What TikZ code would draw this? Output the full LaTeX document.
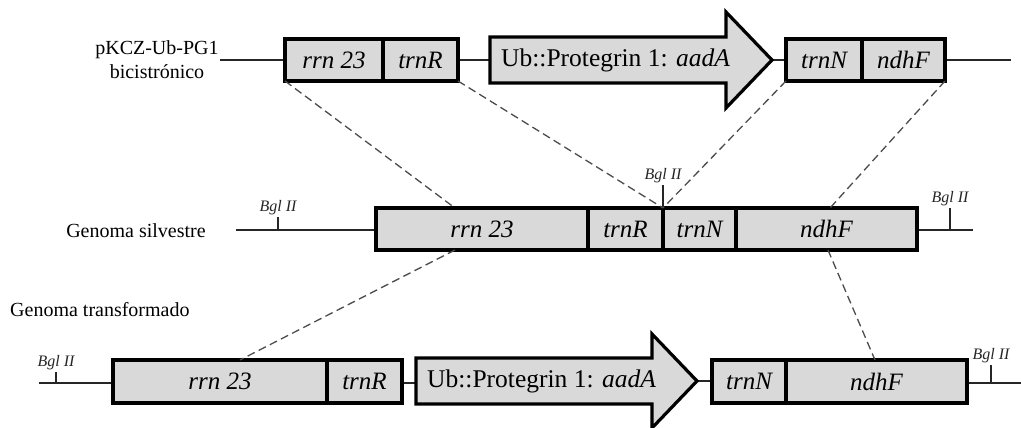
\documentclass[tikz,border=0pt]{standalone}
\usepackage{fontspec}
\setmainfont{Liberation Serif}
\definecolor{boxgray}{HTML}{D9D9D9}
\newcommand\segfont{\fontsize{25}{30}\selectfont\itshape}
\newcommand\arrfont{\fontsize{25.5}{30}\selectfont}
\newcommand\bglfont{\fontsize{16}{18}\selectfont\itshape}
\newcommand\rowfont{\fontsize{20}{24}\selectfont}
\begin{document}
\begin{tikzpicture}[x=1pt,y=-1pt,
  seg/.style={draw=black, line width=3.2pt, fill=boxgray, inner sep=0pt, outer sep=0pt, anchor=north west, font=\segfont},
  arrowbody/.style={draw=black, line width=3.2pt, fill=boxgray, line join=miter},
  thinline/.style={line width=1.4pt, black!85},
  dashc/.style={line width=1.3pt, black!70, dash pattern=on 8pt off 4.5pt},
  bgl/.style={font=\bglfont, inner sep=1.5pt, anchor=south},
  rowlab/.style={font=\rowfont, inner sep=0pt, align=center},
  arrtxt/.style={font=\arrfont, inner sep=0pt, anchor=west}]
\useasboundingbox[fill=white] (0,0) rectangle (1021,428);

% ---------- Row 1: plasmid ----------
\coordinate (p_l0) at (220,60);
\coordinate (p_r0) at (1011,60);
\coordinate (p_arrL) at (490,60);
\coordinate (p_arrT) at (772,60);
\draw[thinline] (p_l0) -- (p_arrL);
\draw[thinline] (p_arrT) -- (p_r0);
\node[seg, minimum width=98pt, minimum height=42pt] (p_rrn) at (285,39) {rrn 23};
\node[seg, minimum width=75pt, minimum height=42pt] (p_trnR) at (383,39) {trnR};
\draw[arrowbody] (490,37) -- (726,37) -- (726,12) -- (p_arrT) -- (726,108) -- (726,83) -- (490,83) -- cycle;
\node[arrtxt] (p_arrtxt) at (501,60) {Ub::Protegrin 1: \textit{aadA}};
\node[seg, minimum width=76pt, minimum height=42pt] (p_trnN) at (786,39) {trnN};
\node[seg, minimum width=83pt, minimum height=42pt] (p_ndhF) at (862,39) {ndhF};
\node[rowlab] (lab1) at (157,60) {pKCZ-Ub-PG1\\bicistrónico};

% ---------- Row 2: wild genome ----------
\coordinate (w_l0) at (236,230);
\coordinate (w_r0) at (973,230);
\coordinate (w_b1) at (278,230);
\coordinate (w_b3) at (950,230);
\draw[thinline] (w_l0) -- (376,230);
\draw[thinline] (917,230) -- (w_r0);
\draw[thinline] (w_b1) -- ++(0,-13) node[bgl] (w_bgl1) {Bgl II};
\draw[thinline] (w_b3) -- ++(0,-22) node[bgl] (w_bgl3) {Bgl II};
\node[seg, minimum width=212pt, minimum height=42pt] (w_rrn) at (376,208) {rrn 23};
\node[seg, minimum width=75pt, minimum height=42pt] (w_trnR) at (588,208) {trnR};
\node[seg, minimum width=73pt, minimum height=42pt] (w_trnN) at (663,208) {trnN};
\node[seg, minimum width=181pt, minimum height=42pt] (w_ndhF) at (736,208) {ndhF};
\draw[thinline] (w_trnR.north east) -- ++(0,-23) node[bgl] (w_bgl2) {Bgl II};
\node[rowlab] (lab2) at (136,231) {Genoma silvestre};

% ---------- Row 3: transformed genome ----------
\coordinate (t_l0) at (39,383);
\coordinate (t_r0) at (1021,383);
\coordinate (t_b1) at (56,383);
\coordinate (t_b2) at (991,383);
\coordinate (t_arrL) at (416,383);
\coordinate (t_arrT) at (697,381);
\draw[thinline] (t_l0) -- (113,383);
\draw[thinline] (402,383) -- (t_arrL);
\draw[thinline] (t_arrT) -- (712,381);
\draw[thinline] (967,383) -- (t_r0);
\draw[thinline] (t_b1) -- ++(0,-11) node[bgl] (t_bgl1) {Bgl II};
\draw[thinline] (t_b2) -- ++(0,-18) node[bgl] (t_bgl2) {Bgl II};
\node[seg, minimum width=214pt, minimum height=43pt] (t_rrn) at (113,360) {rrn 23};
\node[seg, minimum width=75pt, minimum height=43pt] (t_trnR) at (327,360) {trnR};
\draw[arrowbody] (416,358) -- (652,358) -- (652,334) -- (t_arrT) -- (652,428) -- (652,404) -- (416,404) -- cycle;
\node[arrtxt] (t_arrtxt) at (427,381) {Ub::Protegrin 1: \textit{aadA}};
\node[seg, minimum width=74pt, minimum height=43pt] (t_trnN) at (712,360) {trnN};
\node[seg, minimum width=181pt, minimum height=43pt] (t_ndhF) at (786,360) {ndhF};
\node[rowlab, anchor=west] (lab3) at (10,310) {Genoma transformado};

% ---------- dashed connectors ----------
\coordinate (w_d1) at (455,208);
\coordinate (w_d2) at (830,208);
\coordinate (w_d3) at (455,250);
\coordinate (w_d4) at (828,250);
\coordinate (t_d1) at (240,360);
\coordinate (t_d2) at (875,360);
\draw[dashc] (p_rrn.south west) -- (w_d1);
\draw[dashc] (p_trnR.south east) -- (w_trnR.north east);
\draw[dashc] (p_trnN.south west) -- (w_trnR.north east);
\draw[dashc] (p_ndhF.south east) -- (w_d2);
\draw[dashc] (w_d3) -- (t_d1);
\draw[dashc] (w_d4) -- (t_d2);
\end{tikzpicture}
\end{document}
